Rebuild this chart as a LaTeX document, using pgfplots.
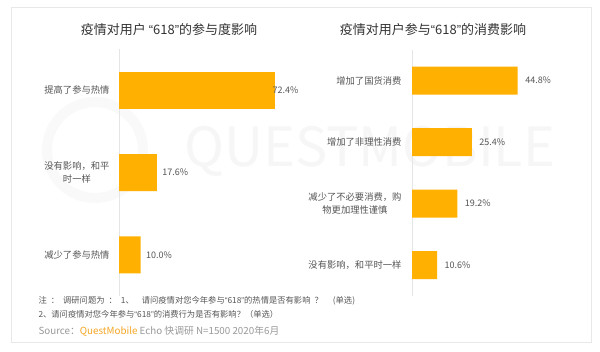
\documentclass[border=0pt]{standalone}
\usepackage{fontspec}
\setmainfont{Noto Sans CJK SC}
\newfontfamily\lat{Liberation Sans}
\usepackage{pgfplots}
\pgfplotsset{compat=1.18}
\definecolor{barc}{HTML}{FFB000}
\definecolor{txt}{HTML}{555555}
\definecolor{ttl}{HTML}{333333}
\definecolor{qm}{HTML}{F5A623}
\begin{document}
\begin{tikzpicture}[x=1pt,y=1pt]
\path[fill=white] (0,0) rectangle (600,351);
\draw[gray!18, line width=0.8pt] (11,344) rectangle (591,9);
% watermark
\draw[gray!5, line width=10pt] (95,201) circle (48);
\node[text=gray!7, font=\fontsize{54}{54}\selectfont, anchor=west] at (181,200) {QUESTMOBILE};
% titles
\node[font=\fontsize{13}{13}\selectfont, text=ttl] at (169,321) {疫情对用户 {\lat“}618{\lat”}的参与度影响};
\node[font=\fontsize{13}{13}\selectfont, text=ttl] at (433,321) {疫情对用户参与{\lat“}618{\lat”}的消费影响};
% left axis
\begin{axis}[at={(119pt,55pt)}, anchor=south west, width=215.5pt, height=246.75pt, scale only axis,
  xmin=0, xmax=100, ymin=-0.5, ymax=2.5, y dir=reverse, xbar,
  axis line style={draw=none}, xtick=\empty, ytick={0,1,2},
  yticklabels={提高了参与热情,{没有影响，和平\\时一样},减少了参与热情},
  major tick length=0pt,
  yticklabel style={font=\fontsize{9.3}{13}\selectfont, text=txt, align=center, xshift=-6pt},
  clip=false,
  nodes near coords={\pgfmathprintnumber[fixed,fixed zerofill,precision=1,assume math mode=true]{\pgfplotspointmeta}\%},
  point meta=x,
  every node near coord/.append style={font=\fontsize{9}{9}\selectfont, text=txt}]
\draw[gray!20] (rel axis cs:0,0) -- (rel axis cs:0,1);
\addplot[fill=barc, draw=none, bar width=37pt, bar shift=0pt, every node near coord/.append style={xshift=-6pt}] coordinates {(72.4,0)};
\addplot[fill=barc, draw=none, bar width=37pt, bar shift=0pt, every node near coord/.append style={xshift=2pt}] coordinates {(17.6,1) (10.0,2)};
\end{axis}
% right axis
\begin{axis}[at={(412pt,55.25pt)}, anchor=south west, width=165.2pt, height=246pt, scale only axis,
  xmin=0, xmax=70, ymin=-0.5, ymax=3.5, y dir=reverse, xbar,
  axis line style={draw=none}, xtick=\empty, ytick={0,1,2,3},
  yticklabels={增加了国货消费,增加了非理性消费,{减少了不必要消费，购\\物更加理性谨慎},没有影响，和平时一样},
  major tick length=0pt,
  yticklabel style={font=\fontsize{9.3}{13}\selectfont, text=txt, align=center, xshift=-7pt},
  clip=false,
  nodes near coords={\pgfmathprintnumber[fixed,fixed zerofill,precision=1,assume math mode=true]{\pgfplotspointmeta}\%},
  point meta=x,
  every node near coord/.append style={font=\fontsize{9}{9}\selectfont, text=txt, xshift=4pt}]
\draw[gray!20] (rel axis cs:0,0) -- (rel axis cs:0,1);
\addplot[fill=barc, draw=none, bar width=28pt, bar shift=0pt] coordinates {(44.8,0) (25.4,1) (19.2,2) (10.6,3)};
\end{axis}
% footnotes
\node[anchor=west, font=\fontsize{8.3}{8.3}\selectfont, text=txt] at (35,50) {注\hspace{4pt}：\hspace{4pt}调研问题为\hspace{4pt}：\hspace{4pt}1、\hspace{8pt}请问疫情对您今年参与{\lat“}618{\lat”}的热情是否有影响\hspace{4pt}？\hspace{10pt}(单选)};
\node[anchor=west, font=\fontsize{8.3}{8.3}\selectfont, text=txt] at (35,37) {2、请问疫情对您今年参与{\lat“}618{\lat”}的消费行为是否有影响？（单选）};
\node[anchor=west, font=\fontsize{9.8}{9.8}\selectfont, text=gray!80] at (35,20) {Source：\textcolor{qm}{QuestMobile} Echo 快调研 N=1500 2020年6月};
\end{tikzpicture}
\end{document}
